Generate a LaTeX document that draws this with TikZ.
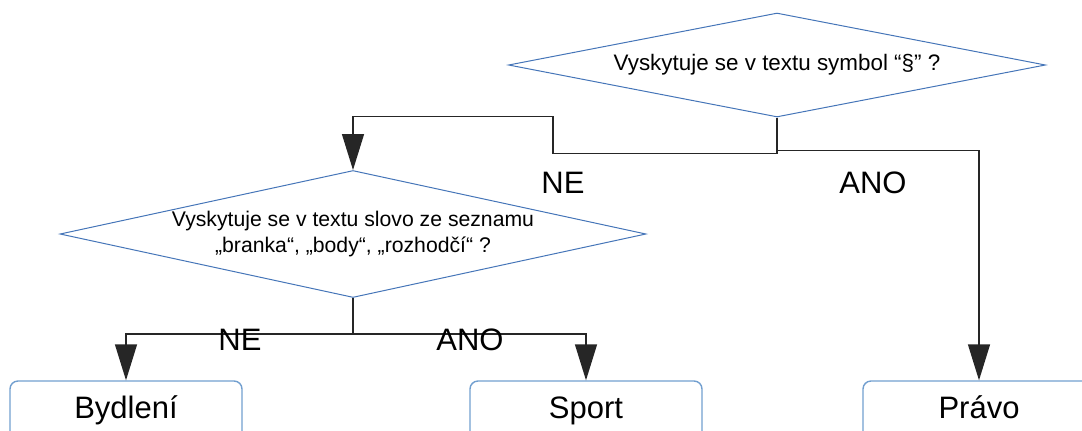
\documentclass[tikz,border=0pt]{standalone}
\usepackage{fontspec}
\setmainfont{Liberation Sans}
\usetikzlibrary{shapes.geometric, arrows.meta}
\definecolor{rulecol}{RGB}{69,117,184}
\definecolor{boxcol}{RGB}{114,159,207}
\tikzset{
  question/.style={diamond, draw=rulecol, line width=0.5pt, inner sep=0pt,
    align=center},
  result/.style={draw=boxcol, line width=0.7pt, rounded corners=4pt,
    minimum width=116pt, minimum height=29pt, text height=11.5pt, text depth=3.3pt,
    font=\fontsize{15.5}{18}\selectfont},
  answer/.style={font=\fontsize{15.5}{18}\selectfont},
  flow/.style={draw=black!85, line width=0.7pt, -{Triangle[length=18pt,width=11pt]}}
}
\begin{document}
\begin{tikzpicture}[x=0.5pt, y=-0.5pt]
    \useasboundingbox (0,0) rectangle (1082,430);
    \clip (0,0) rectangle (1082,430);

    % the two questions
    \node[question, aspect=5, minimum width=268.5pt, minimum height=52pt,
        font=\fontsize{11.2}{13}\selectfont] (q1) at (777,65)
        {Vyskytuje se v textu symbol “§” ?};
    \node[question, aspect=4.6, minimum width=293pt, minimum height=63.5pt,
        font=\fontsize{10.6}{13}\selectfont] (q2) at (353,234)
        {Vyskytuje se v textu slovo ze seznamu\\„branka“, „body“, „rozhodčí“ ?};

    % the categories
    \node[result] (bydleni) at (126,410) {Bydlení};
    \node[result] (sport) at (586,410) {Sport};
    \node[result] (pravo) at (979,410) {Právo};

    % answers to the first question
    \draw[flow] (q1.south) -- ++(0,33) -| (pravo.north);
    \draw[flow] (q1.south) -- ++(0,36) -- ++(-224,0) -- ++(0,-37) -| (q2.north);
    \node[answer] (ne1) at (563,183) {NE};
    \node[answer] (ano1) at (873,183) {ANO};

    % answers to the second question
    \draw[flow] (q2.south) -- ++(0,36) -| (bydleni.north);
    \draw[flow] (q2.south) -- ++(0,36) -| (sport.north);
    \node[answer] (ne2) at (240,340) {NE};
    \node[answer] (ano2) at (470,340) {ANO};
\end{tikzpicture}
\end{document}
